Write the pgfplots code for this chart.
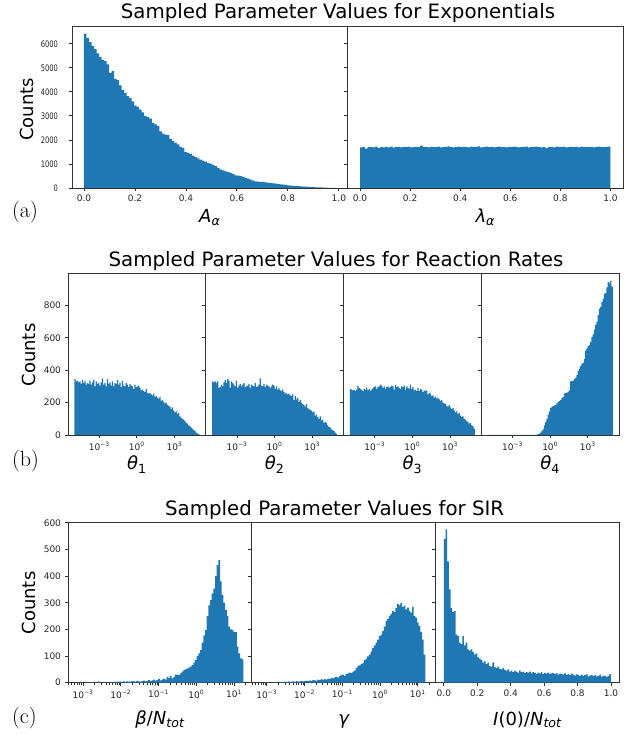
\documentclass[border=0pt]{standalone}
\usepackage{fontspec}
\usepackage{pgfplots}
\pgfplotsset{compat=1.18}
\newfontfamily\dv{DejaVu Sans}
\definecolor{c0}{RGB}{31,119,180}
\newcommand\nx[1]{\scalebox{0.75}[1]{#1}}
\pgfplotsset{
  hist/.style={
    scale only axis, ymin=0, tick pos=left, tick align=outside,
    axis line style={black!80, line width=0.8pt},
    major tick style={black!80, line width=0.8pt}, major tick length=3.5pt,
    minor tick style={black!80, line width=0.6pt}, minor tick length=2pt,
    tick label style={font=\fontsize{9}{11}\selectfont\dv, text=black!85},
    /pgf/number format/assume math mode=true, scaled ticks=false,
    xlabel style={font=\fontsize{18}{20}\selectfont\dv, at={(axis description cs:0.5,0)}, anchor=base},
  },
  bars/.style={fill=c0, draw=none, const plot mark left},
  logc/.style={xmin=-3.4, xmax=1.47, xtick={-3,-2,-1,0,1},
    xticklabels={10\textsuperscript{−3},10\textsuperscript{−2},10\textsuperscript{−1},10\textsuperscript{0},10\textsuperscript{1}},
    minor xtick={-3.398,-3.301,-3.222,-3.155,-3.097,-3.046,
      -2.699,-2.523,-2.398,-2.301,-2.222,-2.155,-2.097,-2.046,
      -1.699,-1.523,-1.398,-1.301,-1.222,-1.155,-1.097,-1.046,
      -0.699,-0.523,-0.398,-0.301,-0.222,-0.155,-0.097,-0.046,
      0.301,0.477,0.602,0.699,0.778,0.845,0.903,0.954,1.301},
    ymax=602, ytick={0,100,...,600}, xlabel style={yshift=-42.3pt}},
  logb/.style={xmin=-5.5, xmax=5.5, xtick={-3,0,3},
    xticklabels={10\textsuperscript{−3},10\textsuperscript{0},10\textsuperscript{3}},
    ymax=995, ytick={0,200,...,800}, xlabel style={yshift=-35pt}},
}
\begin{document}
\begin{tikzpicture}
\useasboundingbox (0,0) rectangle (638pt,735pt);

% ---- (a) exponentials
\begin{axis}[hist, at={(72pt,547pt)}, anchor=south west, width=275.5pt, height=162pt,
  xmin=-0.047, xmax=1.034, ymax=6740,
  xtick={0,0.2,0.4,0.6,0.8,1}, xticklabels={0.0,0.2,0.4,0.6,0.8,1.0},
  ytick={0,1000,...,6000}, yticklabels={\nx{0},\nx{1000},\nx{2000},\nx{3000},\nx{4000},\nx{5000},\nx{6000}},
  yticklabel style={xshift=-7pt},
  xlabel={{\itshape A}\textsubscript{\itshape α}}, xlabel style={yshift=-34.7pt}]
\addplot[bars] table[row sep=\\, header=false, x expr=\coordindex*0.00985, y index=0] {
6420\\6250\\6070\\5900\\5780\\5600\\5450\\5330\\5280\\5140\\
4790\\4860\\4540\\4490\\4270\\4070\\3960\\3820\\3750\\3600\\
3430\\3375\\3265\\3150\\2990\\2945\\2890\\2710\\2650\\2570\\
2360\\2265\\2220\\2195\\2040\\1945\\1880\\1810\\1710\\1655\\
1490\\1460\\1420\\1350\\1280\\1230\\1180\\1140\\1100\\1050\\
1015\\960\\905\\840\\765\\730\\695\\660\\625\\575\\
530\\510\\490\\455\\420\\385\\350\\310\\280\\265\\
255\\250\\230\\210\\200\\190\\180\\165\\150\\140\\
125\\110\\100\\90\\85\\75\\68\\60\\52\\45\\
40\\35\\30\\25\\22\\18\\14\\10\\8\\5\\5\\
} \closedcycle;
\end{axis}

\begin{axis}[hist, at={(347.5pt,547pt)}, anchor=south west, width=275.5pt, height=162pt,
  xmin=-0.05, xmax=1.05, ymax=6740,
  xtick={0,0.2,0.4,0.6,0.8,1}, xticklabels={0.0,0.2,0.4,0.6,0.8,1.0},
  ytick={0,1000,...,6000}, yticklabels={},
  xlabel={{\itshape λ}\textsubscript{\itshape α}}, xlabel style={yshift=-34.7pt}]
\addplot[bars] table[row sep=\\, header=false, x expr=\coordindex*0.01, y index=0] {
1690\\1700\\1640\\1710\\1700\\1690\\1720\\1660\\1700\\1695\\
1710\\1690\\1720\\1680\\1700\\1705\\1690\\1715\\1700\\1720\\
1690\\1705\\1710\\1700\\1760\\1700\\1715\\1690\\1710\\1700\\
1705\\1720\\1690\\1700\\1710\\1730\\1700\\1690\\1705\\1720\\
1700\\1715\\1700\\1690\\1720\\1700\\1710\\1730\\1695\\1705\\
1720\\1700\\1715\\1690\\1700\\1720\\1705\\1700\\1690\\1710\\
1700\\1720\\1705\\1695\\1715\\1700\\1720\\1690\\1705\\1710\\
1725\\1700\\1690\\1705\\1660\\1700\\1715\\1690\\1720\\1710\\
1700\\1720\\1695\\1705\\1715\\1700\\1710\\1690\\1720\\1700\\
1705\\1700\\1715\\1690\\1710\\1720\\1700\\1705\\1715\\1720\\1720\\
} \closedcycle;
\end{axis}

% ---- (b) reaction rates
\begin{axis}[hist, logb, at={(68pt,300pt)}, anchor=south west, width=137.75pt, height=161.3pt,
  xlabel={{\itshape θ}\textsubscript{1}}]
\addplot[bars] table[row sep=\\, header=false, x expr=-5+\coordindex*0.1, y index=0] {
345\\330\\335\\325\\330\\315\\340\\320\\335\\310\\
320\\315\\335\\310\\325\\340\\300\\330\\315\\320\\
305\\325\\350\\310\\320\\300\\345\\315\\325\\305\\
330\\300\\320\\315\\340\\310\\325\\295\\335\\305\\
300\\320\\310\\295\\315\\305\\300\\285\\310\\295\\
300\\305\\290\\275\\280\\270\\265\\285\\260\\255\\
260\\250\\245\\255\\235\\240\\230\\225\\235\\210\\
215\\205\\195\\200\\185\\180\\175\\160\\170\\150\\
140\\145\\130\\135\\115\\105\\100\\95\\85\\75\\
70\\60\\55\\45\\40\\30\\25\\15\\10\\5\\5\\
} \closedcycle;
\end{axis}

\begin{axis}[hist, logb, at={(205.75pt,300pt)}, anchor=south west, width=137.75pt, height=161.3pt,
  yticklabels={}, xlabel={{\itshape θ}\textsubscript{2}}]
\addplot[bars] table[row sep=\\, header=false, x expr=-5+\coordindex*0.1, y index=0] {
330\\325\\330\\320\\330\\290\\295\\310\\300\\325\\
340\\320\\345\\335\\290\\330\\320\\310\\300\\335\\
290\\305\\315\\300\\310\\320\\295\\300\\305\\315\\
290\\310\\305\\300\\320\\295\\300\\310\\350\\305\\
300\\315\\295\\310\\305\\300\\290\\300\\310\\305\\
285\\300\\280\\290\\275\\270\\280\\265\\255\\260\\
250\\255\\245\\240\\250\\215\\240\\220\\230\\205\\
215\\200\\190\\185\\175\\190\\165\\160\\155\\150\\
140\\145\\120\\125\\110\\100\\115\\90\\95\\75\\
80\\75\\60\\50\\45\\35\\30\\25\\15\\8\\8\\
} \closedcycle;
\end{axis}

\begin{axis}[hist, logb, at={(343.5pt,300pt)}, anchor=south west, width=137.75pt, height=161.3pt,
  yticklabels={}, xlabel={{\itshape θ}\textsubscript{3}}]
\addplot[bars] table[row sep=\\, header=false, x expr=-5+\coordindex*0.1, y index=0] {
285\\280\\275\\278\\270\\280\\305\\290\\285\\280\\
270\\285\\280\\290\\275\\285\\270\\280\\290\\295\\
300\\285\\295\\300\\310\\305\\290\\300\\285\\295\\
300\\290\\295\\305\\300\\280\\310\\295\\300\\290\\
285\\300\\295\\305\\280\\300\\290\\285\\310\\285\\
295\\275\\280\\270\\290\\270\\285\\280\\265\\275\\
270\\275\\250\\260\\255\\240\\245\\230\\235\\225\\
230\\220\\210\\215\\200\\195\\190\\180\\175\\185\\
170\\160\\165\\150\\140\\145\\130\\135\\120\\110\\
115\\100\\95\\85\\80\\70\\75\\60\\55\\40\\40\\
} \closedcycle;
\end{axis}

\begin{axis}[hist, logb, at={(481.25pt,300pt)}, anchor=south west, width=137.75pt, height=161.3pt,
  yticklabels={}, xlabel={{\itshape θ}\textsubscript{4}}]
\addplot[bars] table[row sep=\\, header=false, x expr=-5+\coordindex*0.1, y index=0] {
0\\0\\0\\0\\0\\0\\0\\0\\0\\0\\
0\\0\\0\\0\\0\\0\\0\\0\\0\\0\\
0\\0\\0\\0\\0\\0\\0\\0\\0\\0\\
0\\0\\0\\0\\0\\0\\0\\0\\0\\2\\
5\\8\\15\\25\\35\\60\\80\\100\\125\\145\\
165\\175\\178\\182\\185\\195\\205\\210\\215\\228\\
235\\255\\258\\262\\268\\275\\330\\332\\336\\345\\
352\\370\\395\\410\\425\\440\\445\\470\\520\\535\\
548\\555\\575\\605\\620\\650\\680\\700\\740\\780\\
790\\820\\840\\870\\875\\910\\945\\935\\950\\915\\915\\
} \closedcycle;
\end{axis}

% ---- (c) SIR
\begin{axis}[hist, logc, at={(68pt,52.3pt)}, anchor=south west, width=183.77pt, height=160.4pt,
  xlabel={{\itshape β}/{\itshape N}\textsubscript{\itshape tot}}]
\addplot[bars] table[row sep=\\, header=false, x expr=-3.18+\coordindex*0.0443, y index=0] {
0\\0\\0\\1\\0\\0\\0\\0\\0\\2\\
0\\0\\0\\5\\0\\0\\0\\0\\1\\0\\
0\\2\\0\\3\\4\\3\\4\\3\\5\\3\\
5\\4\\3\\6\\5\\4\\7\\5\\3\\6\\
8\\5\\7\\10\\6\\9\\12\\8\\10\\14\\
9\\12\\15\\12\\22\\18\\25\\16\\22\\30\\
30\\28\\35\\42\\47\\50\\54\\57\\60\\66\\
75\\85\\100\\110\\122\\150\\178\\197\\250\\290\\
310\\335\\353\\400\\441\\460\\380\\330\\300\\272\\
250\\210\\200\\197\\191\\190\\135\\110\\91\\88\\88\\
} \closedcycle;
\end{axis}

\begin{axis}[hist, logc, at={(251.77pt,52.3pt)}, anchor=south west, width=183.77pt, height=160.4pt,
  yticklabels={}, xlabel={{\itshape γ}}]
\addplot[bars] table[row sep=\\, header=false, x expr=-3.2+\coordindex*0.044, y index=0] {
0\\0\\0\\0\\2\\0\\0\\0\\0\\0\\
3\\0\\0\\2\\3\\4\\2\\5\\3\\4\\
5\\3\\6\\4\\5\\7\\5\\6\\8\\6\\
8\\7\\10\\9\\8\\12\\10\\13\\11\\14\\
12\\15\\13\\18\\16\\20\\22\\19\\25\\28\\
30\\26\\32\\35\\38\\36\\42\\45\\55\\62\\
65\\70\\73\\85\\90\\99\\105\\118\\130\\140\\
150\\162\\175\\180\\194\\210\\232\\240\\250\\258\\
270\\265\\280\\295\\290\\300\\285\\289\\275\\282\\
270\\263\\285\\250\\244\\225\\213\\190\\162\\105\\105\\
} \closedcycle;
\end{axis}

\begin{axis}[hist, at={(435.53pt,52.3pt)}, anchor=south west, width=183.77pt, height=160.4pt,
  xmin=-0.05, xmax=1.05, ymax=602, ytick={0,100,...,600}, yticklabels={},
  xtick={0,0.2,0.4,0.6,0.8,1}, xticklabels={0.0,0.2,0.4,0.6,0.8,1.0},
  xlabel={{\itshape I}(0)/{\itshape N}\textsubscript{\itshape tot}}, xlabel style={yshift=-42.3pt}]
\addplot[bars] table[row sep=\\, header=false, x expr=\coordindex*0.01, y index=0] {
540\\575\\455\\350\\280\\265\\270\\180\\175\\150\\
145\\175\\140\\150\\125\\120\\125\\115\\105\\110\\
95\\90\\85\\75\\80\\70\\75\\62\\60\\76\\
58\\55\\60\\52\\50\\55\\48\\45\\50\\42\\
45\\40\\44\\42\\38\\46\\40\\42\\36\\40\\
38\\42\\35\\40\\36\\33\\38\\35\\40\\32\\
36\\34\\38\\33\\35\\37\\32\\36\\30\\34\\
33\\30\\35\\29\\32\\28\\34\\30\\27\\31\\
29\\26\\30\\25\\28\\31\\24\\27\\29\\25\\
28\\24\\26\\30\\23\\27\\25\\22\\26\\32\\32\\
} \closedcycle;
\end{axis}

% ---- titles and labels
\begin{scope}[every node/.style={font=\fontsize{19.8}{22}\selectfont\dv, anchor=base}]
\node at (338pt,716.5pt) {Sampled Parameter Values for Exponentials};
\node at (336pt,468.3pt) {Sampled Parameter Values for Reaction Rates};
\node at (334.7pt,219.3pt) {Sampled Parameter Values for SIR};
\end{scope}
\begin{scope}[every node/.style={font=\fontsize{18}{20}\selectfont\dv, rotate=90, anchor=base}]
\node at (33pt,625.5pt) {Counts};
\node at (35pt,380pt) {Counts};
\node at (35pt,132pt) {Counts};
\end{scope}
\begin{scope}[every node/.style={font=\fontsize{22}{26}\selectfont, anchor=base west, inner sep=0pt}]
\node at (12pt,517pt) {(a)};
\node at (12pt,268pt) {(b)};
\node at (12pt,11pt) {(c)};
\end{scope}
\end{tikzpicture}
\end{document}
